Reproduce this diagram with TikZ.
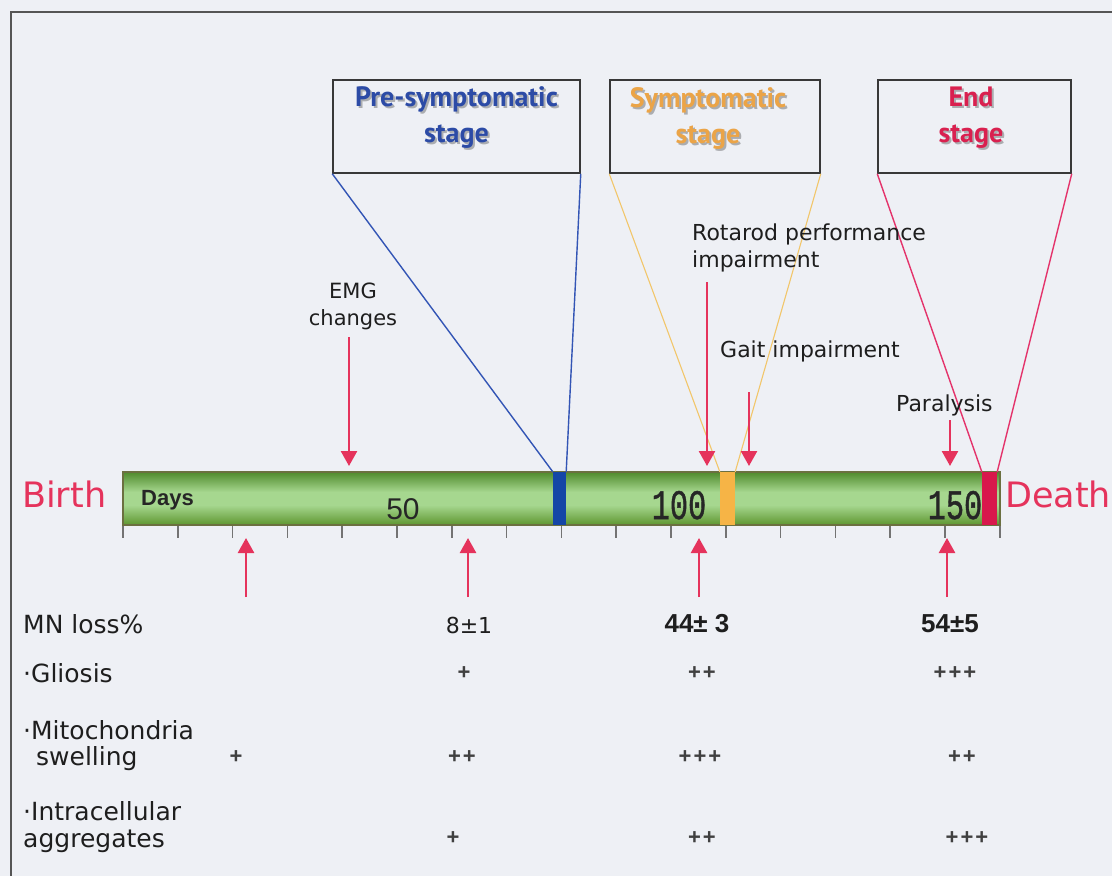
\documentclass[tikz,border=0pt]{standalone}
\usepackage{fontspec}
\usepackage{graphicx}
\setmainfont{DejaVu Sans}
\newfontfamily\boxfont{PT Sans}
\newfontfamily\arialfont{Liberation Sans}
\newfontfamily\courfont[FakeBold=1.2]{Liberation Mono}
\usetikzlibrary{arrows.meta}
\definecolor{bg}{HTML}{EEF0F5}
\definecolor{crim}{HTML}{E5335C}
\definecolor{pblue}{HTML}{2C4BA6}
\definecolor{porange}{HTML}{EBA447}
\definecolor{pred}{HTML}{D9204F}
\definecolor{lblue}{HTML}{3355B5}
\definecolor{lyellow}{HTML}{F2C66A}
\definecolor{lpink}{HTML}{E4336B}
\definecolor{bandblue}{HTML}{1446A6}
\definecolor{bandorange}{HTML}{F6B446}
\definecolor{bandred}{HTML}{D8184C}
\definecolor{gtop}{HTML}{4F8A2C}
\definecolor{gmid}{HTML}{A6D78F}
\definecolor{gbot}{HTML}{5E9630}
\definecolor{baredge}{HTML}{6B7040}
\definecolor{framecol}{HTML}{555555}
\definecolor{txt}{HTML}{1E1E1E}
\tikzset{
  redarrow/.style={draw=crim, line width=2.5pt, -{Triangle[width=16pt,length=15pt]}},
  stagebox/.style={draw=black!78, line width=1.5pt, fill=bg, minimum height=93pt, inner sep=0pt},
  stagetitle/.style={font=\boxfont\bfseries\fontsize{28}{36}\selectfont, align=center, inner sep=0pt},
  shadowtitle/.style={stagetitle, text=black, opacity=0.28},
  band/.style={minimum height=53pt, inner sep=0pt},
  annot/.style={font=\fontsize{22}{27}\selectfont, text=txt, inner sep=0pt},
  rowlabel/.style={font=\fontsize{25}{30}\selectfont, text=txt, inner sep=0pt, anchor=base west},
  plus/.style={font=\arialfont\bfseries\fontsize{22}{22}\selectfont, text=txt!85, inner sep=0pt},
  tick/.style={draw=black!55, line width=1.5pt},
}
\begin{document}
\begin{tikzpicture}[x=1pt,y=-1pt]
\useasboundingbox (0,0) rectangle (1112,876);
\fill[bg] (0,0) rectangle (1112,876);
\draw[framecol, line width=2pt] (11,876) -- (11,12) -- (1112,12);

% time bar: gradient in stripes
\foreach \k in {0,...,19}{
  \pgfmathsetmacro{\p}{5*\k}
  \fill[gmid!\p!gtop] (123,472+\k) rectangle (1000,473.2+\k);
}
\fill[gmid] (123,492) rectangle (1000,505);
\foreach \k in {0,...,19}{
  \pgfmathsetmacro{\p}{100-5*\k}
  \fill[gmid!\p!gbot] (123,505+\k) rectangle (1000,506.2+\k);
}
\node (bar) [minimum width=877pt, minimum height=53pt, inner sep=0pt, draw=baredge, line width=1.5pt] at (561.5,498.5) {};
\foreach \i in {0,...,16} \draw[tick] (123+54.8*\i,526) -- (123+54.8*\i,538);
\node (blueband) [band, fill=bandblue, minimum width=13pt] at (559.5,498.5) {};
\node (orangeband) [band, fill=bandorange, minimum width=15pt] at (727.5,498.5) {};
\node (redband) [band, fill=bandred, minimum width=15pt] at (989.5,498.5) {};

\node (days) [anchor=base west, inner sep=0pt, font=\arialfont\bfseries\fontsize{22}{22}\selectfont, text=black!85] at (141,505) {Days};
\node (d50) [anchor=base, inner sep=0pt, font=\arialfont\fontsize{30}{30}\selectfont, text=black!85] at (403,519) {50};
\node (d100) [anchor=base, inner sep=0pt, font=\courfont\fontsize{42}{42}\selectfont, text=black!85] at (679,519) {\scalebox{0.72}[1]{100}};
\node (d150) [anchor=base, inner sep=0pt, font=\courfont\fontsize{42}{42}\selectfont, text=black!85] at (955,519) {\scalebox{0.72}[1]{150}};

\node (birth) [anchor=base west, inner sep=0pt, font=\fontsize{35}{35}\selectfont, text=crim] at (22,507) {Birth};
\node (death) [anchor=base west, inner sep=0pt, font=\fontsize{35}{35}\selectfont, text=crim] at (1005,507) {Death};

% stage boxes
\node (pre) [stagebox, minimum width=247pt] at (456.5,126.5) {};
\node (sym) [stagebox, minimum width=210pt] at (715,126.5) {};
\node (endb) [stagebox, minimum width=193pt] at (974.5,126.5) {};
\node (preshadow) [shadowtitle] at (458.5,120) {Pre-symptomatic\\stage};
\node (symshadow) [shadowtitle] at (710,120) {Symptomatic\\stage};
\node (endshadow) [shadowtitle] at (973,120) {End\\stage};
\node (pretitle) [stagetitle, text=pblue] at (456.5,118) {Pre-symptomatic\\stage};
\node (symtitle) [stagetitle, text=porange] at (708,118) {Symptomatic\\stage};
\node (endtitle) [stagetitle, text=pred] at (971,118) {End\\stage};

\draw[lblue, line width=1.4pt] (pre.south west) -- (blueband.north west);
\draw[lblue, line width=1.4pt] (pre.south east) -- (blueband.north east);
\draw[lyellow, line width=1.1pt] (sym.south west) -- (orangeband.north west);
\draw[lyellow, line width=1.1pt] (sym.south east) -- (orangeband.north east);
\draw[lpink, line width=1.4pt] (endb.south west) -- (redband.north west);
\draw[lpink, line width=1.4pt] (endb.south east) -- (redband.north east);

% annotations above the bar
\node (emg) [annot, align=center, font=\fontsize{21}{27}\selectfont] at (353,306) {EMG\\changes};
\node (rota) [annot, align=left, anchor=west] at (692,248) {Rotarod performance\\impairment};
\node (gait) [annot, anchor=base west] at (720,357) {Gait impairment};
\node (para) [annot, anchor=base west] at (896,411) {Paralysis};

\coordinate (emgA) at (349,337);   \coordinate (emgB) at (349,466);
\coordinate (rotA) at (707,282);   \coordinate (rotB) at (707,466);
\coordinate (gaitA) at (749,392);  \coordinate (gaitB) at (749,466);
\coordinate (parA) at (950,420);   \coordinate (parB) at (950,466);
\draw[redarrow] (emgA) -- (emgB);
\draw[redarrow] (rotA) -- (rotB);
\draw[redarrow] (gaitA) -- (gaitB);
\draw[redarrow] (parA) -- (parB);

% arrows below the bar
\foreach \n/\x in {u1/246,u2/468,u3/699,u4/947}{
  \coordinate (\n A) at (\x,597);
  \coordinate (\n B) at (\x,538);
  \draw[redarrow] (\n A) -- (\n B);
}

% table
\node (mn) [rowlabel] at (23,633) {MN loss\%};
\node (gli) [rowlabel] at (23,682) {·Gliosis};
\node (mito1) [rowlabel] at (23,739) {·Mitochondria};
\node (mito2) [rowlabel] at (36,765) {swelling};
\node (intra1) [rowlabel] at (23,820) {·Intracellular};
\node (intra2) [rowlabel] at (23,847) {aggregates};

\node (v1) [anchor=base, inner sep=0pt, font=\fontsize{22}{22}\selectfont, text=txt] at (469,633) {8±1};
\node (v2) [anchor=base, inner sep=0pt, font=\arialfont\bfseries\fontsize{26}{26}\selectfont, text=txt] at (697,632) {44± 3};
\node (v3) [anchor=base, inner sep=0pt, font=\arialfont\bfseries\fontsize{26}{26}\selectfont, text=txt] at (950,632) {54±5};

\node (g1) [plus] at (464,673) {+};
\node (g2) [plus] at (702,673) {+\hspace{2pt}+};
\node (g3) [plus] at (955,673) {+\hspace{2pt}+\hspace{2pt}+};
\node (m0) [plus] at (236,757) {+};
\node (m1) [plus] at (462,757) {+\hspace{2pt}+};
\node (m2) [plus] at (700,757) {+\hspace{2pt}+\hspace{2pt}+};
\node (m3) [plus] at (962,757) {+\hspace{2pt}+};
\node (i1) [plus] at (453,838) {+};
\node (i2) [plus] at (702,838) {+\hspace{2pt}+};
\node (i3) [plus] at (967,838) {+\hspace{2pt}+\hspace{2pt}+};
\end{tikzpicture}
\end{document}
